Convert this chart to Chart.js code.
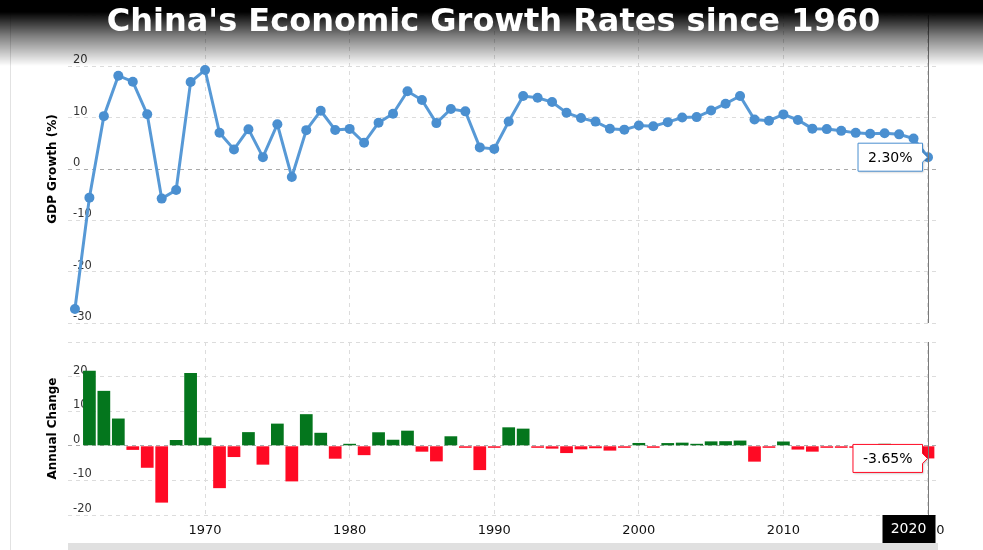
<!DOCTYPE html>
<html>
<head>
<meta charset="utf-8">
<script src="https://cdn.jsdelivr.net/npm/chart.js@4.4.1/dist/chart.umd.min.js"></script>
<style>
  body { margin: 0; background: #fff; }
  #wrap { position: relative; width: 983px; height: 550px; overflow: hidden; background: #fff; }
  #topBox { position: absolute; left: 0; top: 0; width: 983px; height: 335px; }
  #bottomBox { position: absolute; left: 0; top: 330px; width: 983px; height: 220px; }
  #header {
    position: absolute; left: 0; top: 0; width: 983px; height: 66px;
    background: linear-gradient(to bottom, rgba(0,0,0,1) 0px, rgba(0,0,0,1) 12px, rgba(0,0,0,0.5) 36px, rgba(0,0,0,0) 66px);
    color: #fff; font-family: "DejaVu Sans", sans-serif; font-weight: bold; font-size: 32px;
    text-align: center; line-height: 40px; padding-left: 4px; box-sizing: border-box;
  }
  #leftLine { position: absolute; left: 10px; top: 0; width: 1px; height: 550px; background: #e2e2e2; }
  #scrollBar { position: absolute; left: 68px; top: 543px; width: 870px; height: 7px; background: #e0e0e0; }
</style>
</head>
<body>
<div id="wrap">
  <div id="topBox"><canvas id="growthChart" width="983" height="335"></canvas></div>
  <div id="bottomBox"><canvas id="changeChart" width="983" height="220"></canvas></div>
  <div id="leftLine"></div>
  <div id="scrollBar"></div>
  <div id="header">China's Economic Growth Rates since 1960</div>
</div>
<script>
// Years
const years = [1961, 1962, 1963, 1964, 1965, 1966, 1967, 1968, 1969, 1970,
  1971, 1972, 1973, 1974, 1975, 1976, 1977, 1978, 1979, 1980,
  1981, 1982, 1983, 1984, 1985, 1986, 1987, 1988, 1989, 1990,
  1991, 1992, 1993, 1994, 1995, 1996, 1997, 1998, 1999, 2000,
  2001, 2002, 2003, 2004, 2005, 2006, 2007, 2008, 2009, 2010,
  2011, 2012, 2013, 2014, 2015, 2016, 2017, 2018, 2019, 2020];

// GDP Growth (%)
const growth = [-27.27, -5.58, 10.30, 18.18, 17.00, 10.65, -5.77, -4.10, 16.94, 19.30,
  7.06, 3.81, 7.76, 2.31, 8.72, -1.57, 7.57, 11.33, 7.60, 7.81,
  5.11, 9.02, 10.77, 15.14, 13.44, 8.94, 11.69, 11.23, 4.21, 3.92,
  9.26, 14.22, 13.87, 13.05, 10.95, 9.93, 9.23, 7.84, 7.67, 8.49,
  8.34, 9.13, 10.04, 10.11, 11.39, 12.72, 14.23, 9.65, 9.40, 10.64,
  9.55, 7.86, 7.77, 7.43, 7.04, 6.85, 6.95, 6.75, 5.95, 2.30];

// Annual Change (1962 - 2020)
const changeYears = years.slice(1);
const change = [21.69, 15.88, 7.88, -1.18, -6.35, -16.42, 1.67, 21.04, 2.36,
  -12.24, -3.25, 3.95, -5.45, 6.41, -10.29, 9.14, 3.76, -3.73, 0.21,
  -2.70, 3.91, 1.75, 4.37, -1.70, -4.50, 2.75, -0.46, -7.02, -0.29,
  5.34, 4.96, -0.35, -0.82, -2.10, -1.02, -0.70, -1.39, -0.17, 0.82,
  -0.15, 0.79, 0.91, 0.07, 1.28, 1.33, 1.51, -4.58, -0.25, 1.24,
  -1.09, -1.69, -0.09, -0.34, -0.39, -0.19, 0.10, -0.20, -0.80, -3.65];

const xMin = 1960.52;
const xMax = 2020.83;
const lineColor = "#5799d6";
const pointColor = "#4a8fd0";
const green = "#04761d";
const red = "#ff0a24";

const tickFont = { family: "DejaVu Sans", size: 11.5 };
const gridDash = [4, 4];

// crosshair line + value box on the last year
const crosshair = {
  id: "crosshair",
  afterDraw(chart, args, opts) {
    const { ctx, chartArea, scales } = chart;
    const x = Math.round(scales.x.getPixelForValue(opts.year)) + 0.5;
    ctx.save();
    ctx.strokeStyle = "#7a7a7a";
    ctx.lineWidth = 1;
    ctx.beginPath();
    ctx.moveTo(x, chartArea.top);
    ctx.lineTo(x, chartArea.bottom);
    ctx.stroke();

    const y = scales.y.getPixelForValue(opts.value);
    ctx.font = "14px 'DejaVu Sans'";
    const text = opts.value.toFixed(2) + "%";
    const w = ctx.measureText(text).width + 20;
    const h = 28;
    const right = x - 6;
    const left = right - w;
    ctx.shadowColor = "rgba(0,0,0,0.25)";
    ctx.shadowOffsetX = 1;
    ctx.shadowOffsetY = 1;
    ctx.shadowBlur = 2;
    ctx.beginPath();
    ctx.moveTo(left, y - h / 2);
    ctx.lineTo(right, y - h / 2);
    ctx.lineTo(right, y - 5);
    ctx.lineTo(right + 5, y);
    ctx.lineTo(right, y + 5);
    ctx.lineTo(right, y + h / 2);
    ctx.lineTo(left, y + h / 2);
    ctx.closePath();
    ctx.fillStyle = "#fff";
    ctx.fill();
    ctx.shadowColor = "transparent";
    ctx.strokeStyle = opts.border;
    ctx.stroke();
    ctx.fillStyle = "#000";
    ctx.textAlign = "center";
    ctx.textBaseline = "middle";
    ctx.fillText(text, left + w / 2, y + 1);

    if (opts.yearBox) {
      const bx = x - 46;
      const by = chartArea.bottom;
      ctx.fillStyle = "#000";
      ctx.fillRect(bx, by, 53, 28);
      ctx.fillStyle = "#fff";
      ctx.font = "14px 'DejaVu Sans'";
      ctx.fillText(String(opts.year), bx + 26, by + 14);
    }
    ctx.restore();
  }
};

const xAxis = (showTicks, height) => ({
  type: "linear",
  min: xMin,
  max: xMax,
  offset: false,
  afterFit: (scale) => { scale.height = height; },
  border: { display: false, dash: gridDash },
  grid: { color: "#dcdcdc", drawTicks: false, offset: false },
  ticks: {
    display: showTicks,
    includeBounds: false,
    stepSize: 10,
    padding: 8,
    color: "#111",
    font: { family: "DejaVu Sans", size: 13 },
    callback: (v) => String(v)
  }
});

const yAxis = (min, max, title) => ({
  min: min,
  max: max,
  afterFit: (scale) => { scale.width = 68; },
  border: { display: false, dash: gridDash },
  grid: {
    drawTicks: false,
    color: (c) => (c.tick && c.tick.value === 0 ? "#aaaaaa" : "#dcdcdc")
  },
  ticks: {
    stepSize: 10,
    mirror: true,
    padding: 5,
    labelOffset: -6,
    color: "#333",
    font: tickFont,
    callback: (v) => (v === 30 ? "" : String(v))
  },
  title: {
    display: true,
    text: title,
    color: "#000",
    font: { family: "DejaVu Sans", size: 12, weight: "bold" },
    padding: { top: 46, bottom: 0 }
  }
});

Chart.defaults.animation = false;
Chart.defaults.font.family = "DejaVu Sans";

const growthChart = new Chart(document.getElementById("growthChart"), {
  type: "line",
  data: {
    datasets: [{
      data: years.map((y, i) => ({ x: y, y: growth[i] })),
      borderColor: lineColor,
      backgroundColor: pointColor,
      pointBackgroundColor: pointColor,
      borderWidth: 3,
      pointRadius: 5,
      pointBorderWidth: 0,
      tension: 0,
      clip: false
    }]
  },
  options: {
    responsive: false,
    layout: { padding: { top: 15, right: 43, bottom: 0, left: 0 } },
    plugins: {
      legend: { display: false },
      tooltip: { enabled: false },
      crosshair: { year: 2020, value: growth[growth.length - 1], border: pointColor }
    },
    scales: {
      x: xAxis(false, 12),
      y: yAxis(-30, 30, "GDP Growth (%)")
    }
  },
  plugins: [crosshair]
});

const changeChart = new Chart(document.getElementById("changeChart"), {
  type: "bar",
  data: {
    datasets: [{
      data: changeYears.map((y, i) => ({ x: y, y: change[i] })),
      backgroundColor: change.map((v) => (v >= 0 ? green : red)),
      barPercentage: 1,
      categoryPercentage: 0.88,
      minBarLength: 2
    }]
  },
  options: {
    responsive: false,
    layout: { padding: { top: 12, right: 43, bottom: 0, left: 0 } },
    plugins: {
      legend: { display: false },
      tooltip: { enabled: false },
      crosshair: { year: 2020, value: change[change.length - 1], border: red, yearBox: true }
    },
    scales: {
      x: xAxis(true, 35),
      y: yAxis(-20, 30, "Annual Change")
    }
  },
  plugins: [crosshair]
});
</script>
</body>
</html>
